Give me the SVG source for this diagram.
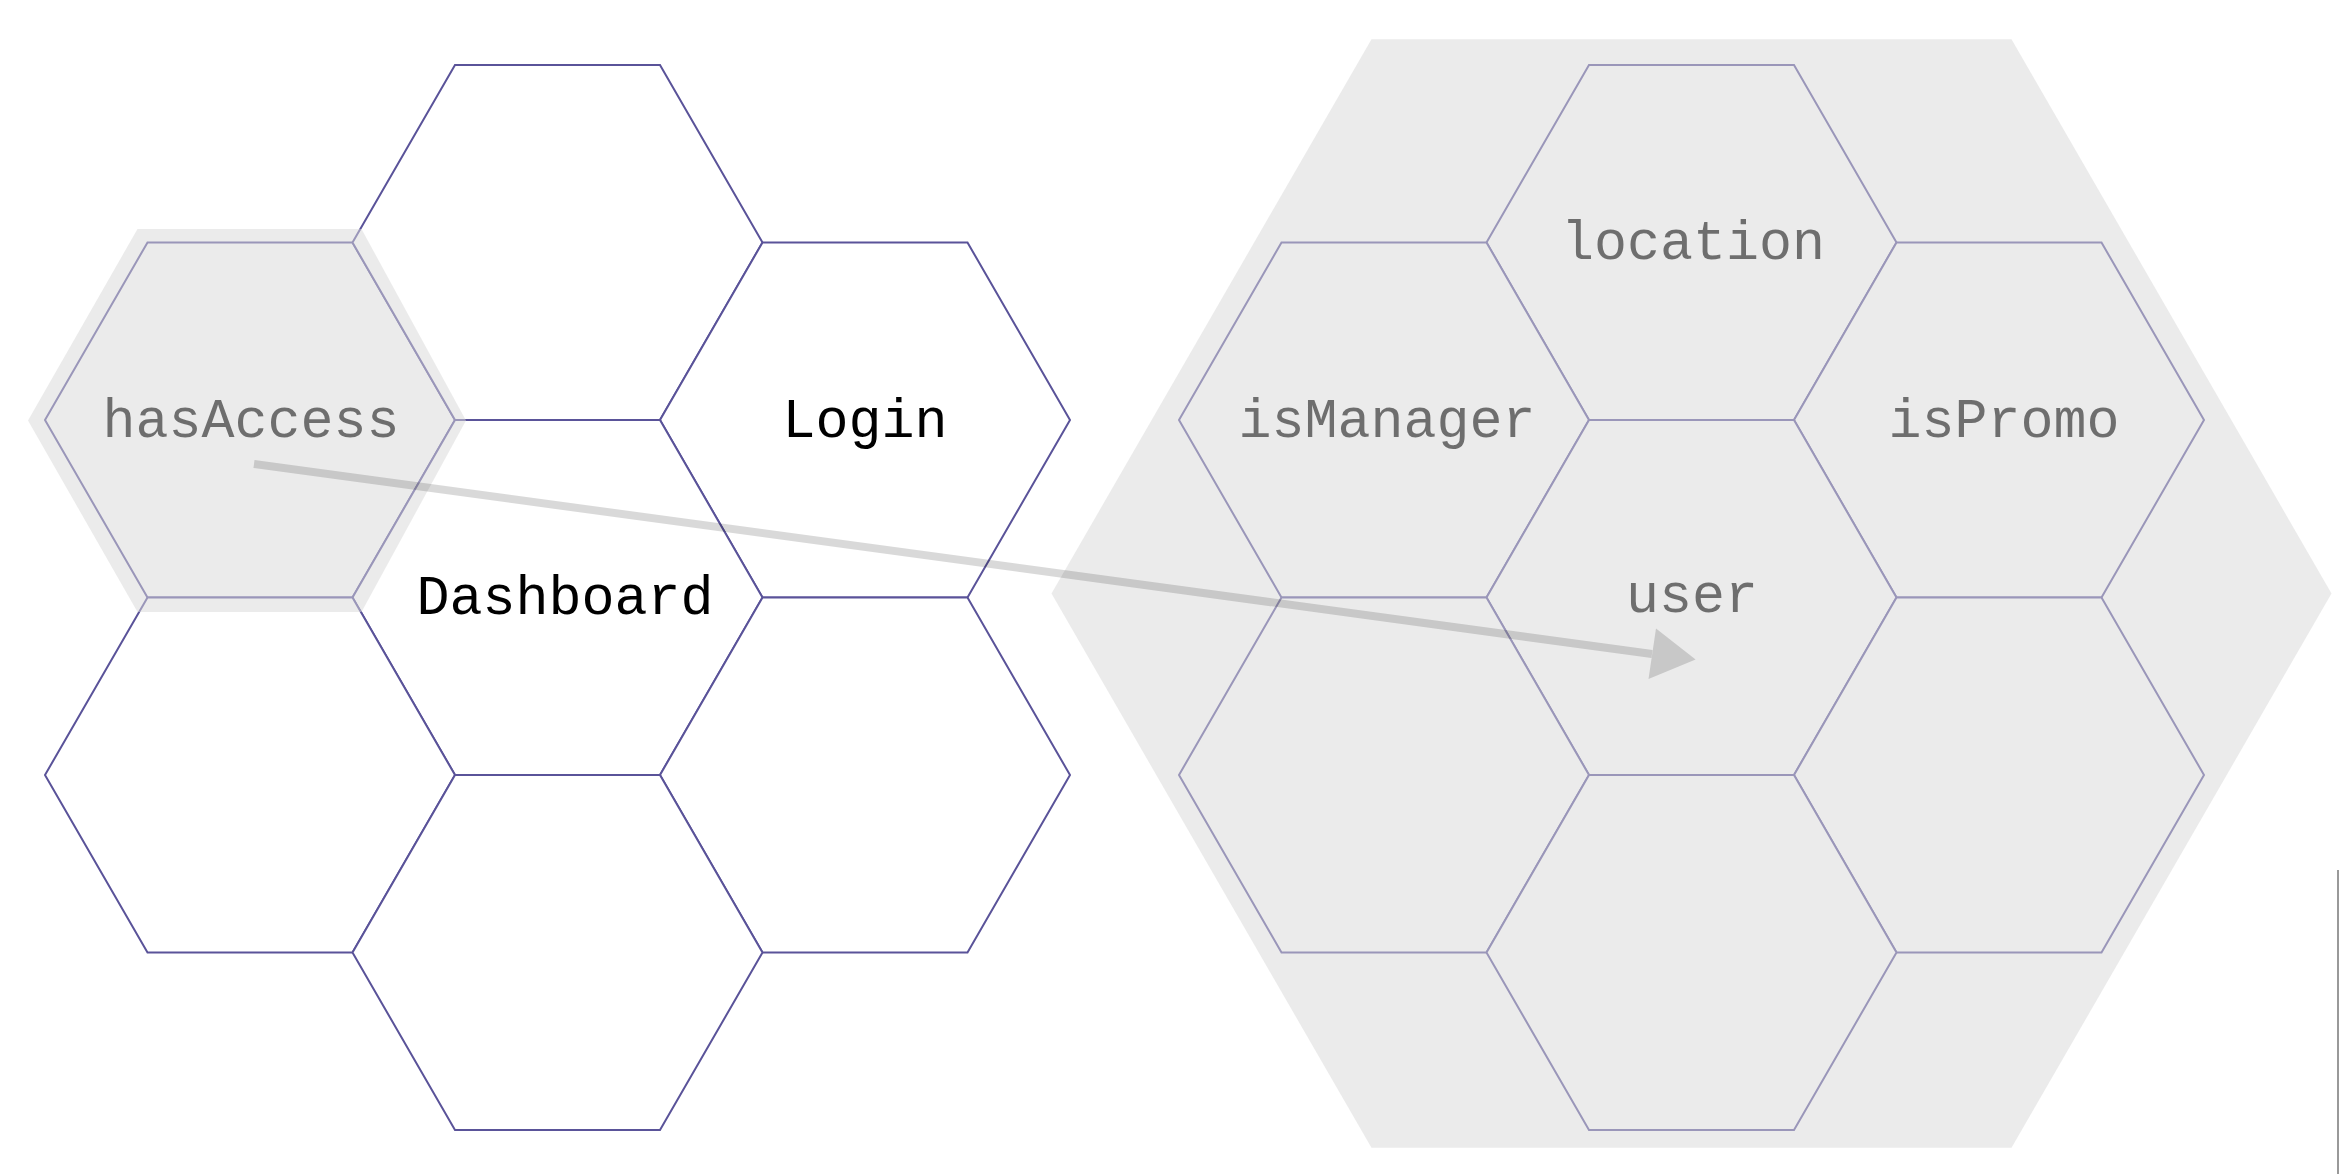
<svg xmlns="http://www.w3.org/2000/svg" width="2340" height="1174" viewBox="0 0 2340 1174">
<style>
.hex{fill:#ffffff;stroke:#5a5399;stroke-width:2}
.lbl{font-family:"Liberation Mono","DejaVu Sans Mono",monospace;font-size:55px;fill:#000000;text-anchor:middle}
.ov{fill:#d8d8d8;opacity:0.51}
.conn{stroke:#000000;stroke-opacity:0.15;stroke-width:8;fill:none}
.head{fill:#000000;fill-opacity:0.15}
</style>
<defs>
<polygon id="hx" points="-205,0 -102.5,-177.5 102.5,-177.5 205,0 102.5,177.5 -102.5,177.5"/>
</defs>
<rect x="0" y="0" width="2340" height="1174" fill="#ffffff"/>
<g id="nodes">
<g id="hasAccess"><use href="#hx" class="hex" transform="translate(250,420)"/><text class="lbl" x="251" y="437">hasAccess</text></g>
<g id="top-left-cluster"><use href="#hx" class="hex" transform="translate(557.5,242.5)"/></g>
<g id="Login"><use href="#hx" class="hex" transform="translate(865,420)"/><text class="lbl" x="865" y="437">Login</text></g>
<g id="Dashboard"><use href="#hx" class="hex" transform="translate(557.5,597.5)"/><text class="lbl" x="565" y="614">Dashboard</text></g>
<g id="left-bl"><use href="#hx" class="hex" transform="translate(250,775)"/></g>
<g id="left-br"><use href="#hx" class="hex" transform="translate(865,775)"/></g>
<g id="left-bottom"><use href="#hx" class="hex" transform="translate(557.5,952.5)"/></g>
<g id="location"><use href="#hx" class="hex" transform="translate(1691.5,242.5)"/><text class="lbl" x="1693" y="259">location</text></g>
<g id="isManager"><use href="#hx" class="hex" transform="translate(1384,420)"/><text class="lbl" x="1387" y="437">isManager</text></g>
<g id="isPromo"><use href="#hx" class="hex" transform="translate(1999,420)"/><text class="lbl" x="2004" y="437">isPromo</text></g>
<g id="user"><use href="#hx" class="hex" transform="translate(1691.5,597.5)"/><text class="lbl" x="1692" y="612">user</text></g>
<g id="right-bl"><use href="#hx" class="hex" transform="translate(1384,775)"/></g>
<g id="right-br"><use href="#hx" class="hex" transform="translate(1999,775)"/></g>
<g id="right-bottom"><use href="#hx" class="hex" transform="translate(1691.5,952.5)"/></g>
</g>
<g id="highlights">
<polygon class="ov" points="28,420.5 137.5,229 361.5,229 466,420.5 361.5,612 137.5,612"/>
<polygon class="ov" points="1051.5,593.5 1371.5,39.2 2011.5,39.2 2331.5,593.5 2011.5,1147.8 1371.5,1147.8"/>
</g>
<g id="connectors">
<line class="conn" x1="254" y1="464" x2="1652" y2="654"/>
<polygon class="head" points="1695.6,659.5 1656,628.5 1648.5,679"/>
</g>
<line x1="2338" y1="870" x2="2338" y2="1174" stroke="#999999" stroke-width="2"/>
</svg>
